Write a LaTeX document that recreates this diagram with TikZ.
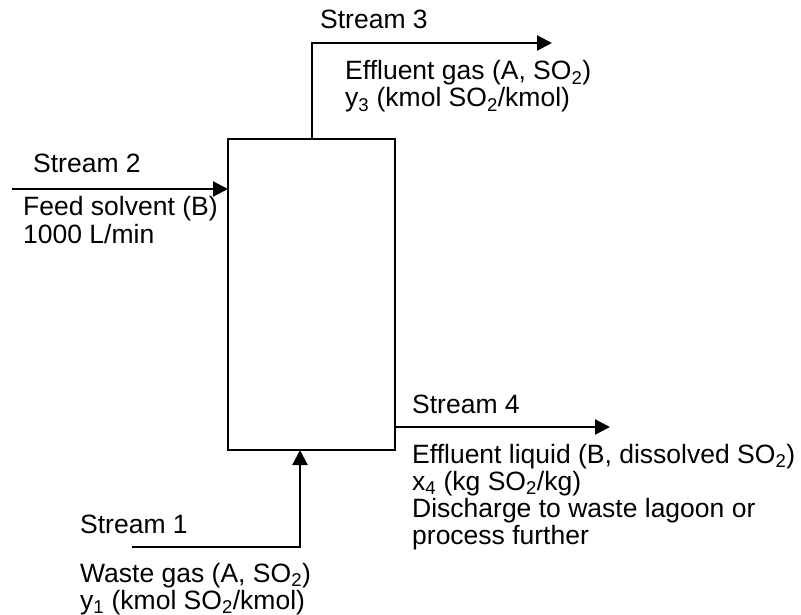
\documentclass[tikz,border=0pt]{standalone}
\usepackage{fontspec}
\setmainfont{Liberation Sans}
\usetikzlibrary{arrows.meta}
\begin{document}
\begin{tikzpicture}[x=1pt,y=-1pt,
 lbl/.style={anchor=base west,inner sep=0pt,font=\fontsize{26.5}{30}\selectfont},
 flow/.style={line width=2.2pt,-{Triangle[length=15pt,width=15pt]}},
 unit/.style={draw,line width=2.2pt,minimum width=167pt,minimum height=311pt,inner sep=0pt,outer sep=0pt}]
\useasboundingbox (0,0) rectangle (801,615);
\node[unit] (col) at (311.5,294.5) {};
% Stream 3
\coordinate (s3top) at (312,43);
\coordinate (s3end) at (552,43);
\draw[flow] (s3top |- col.north) -- (s3top) -- (s3end);
\node[lbl] (t3) at (320,29) {Stream 3};
\node[lbl] (t3a) at (345,80) {Effluent gas (A, SO\textsubscript{2})};
\node[lbl] (t3b) at (345,107) {y\textsubscript{3} (kmol SO\textsubscript{2}/kmol)};
% Stream 2
\coordinate (s2in) at (12,189);
\draw[flow] (s2in) -- (s2in -| col.west);
\node[lbl] (t2) at (33,172) {Stream 2};
\node[lbl] (t2a) at (23,215) {Feed solvent (B)};
\node[lbl] (t2b) at (23,243) {1000 L/min};
% Stream 4
\coordinate (s4end) at (610,427);
\draw[flow] (col.east |- s4end) -- (s4end);
\node[lbl] (t4) at (412,413) {Stream 4};
\node[lbl] (t4a) at (412,463) {Effluent liquid (B, dissolved SO\textsubscript{2})};
\node[lbl] (t4b) at (412,490) {x\textsubscript{4} (kg SO\textsubscript{2}/kg)};
\node[lbl] (t4c) at (412,517) {Discharge to waste lagoon or};
\node[lbl] (t4d) at (412,544) {process further};
% Stream 1
\coordinate (s1start) at (132,547);
\coordinate (s1turn) at (300,547);
\draw[flow] (s1start) -- (s1turn) -- (s1turn |- col.south);
\node[lbl] (t1) at (80,533) {Stream 1};
\node[lbl] (t1a) at (80,582) {Waste gas (A, SO\textsubscript{2})};
\node[lbl] (t1b) at (80,609) {y\textsubscript{1} (kmol SO\textsubscript{2}/kmol)};
\end{tikzpicture}
\end{document}
